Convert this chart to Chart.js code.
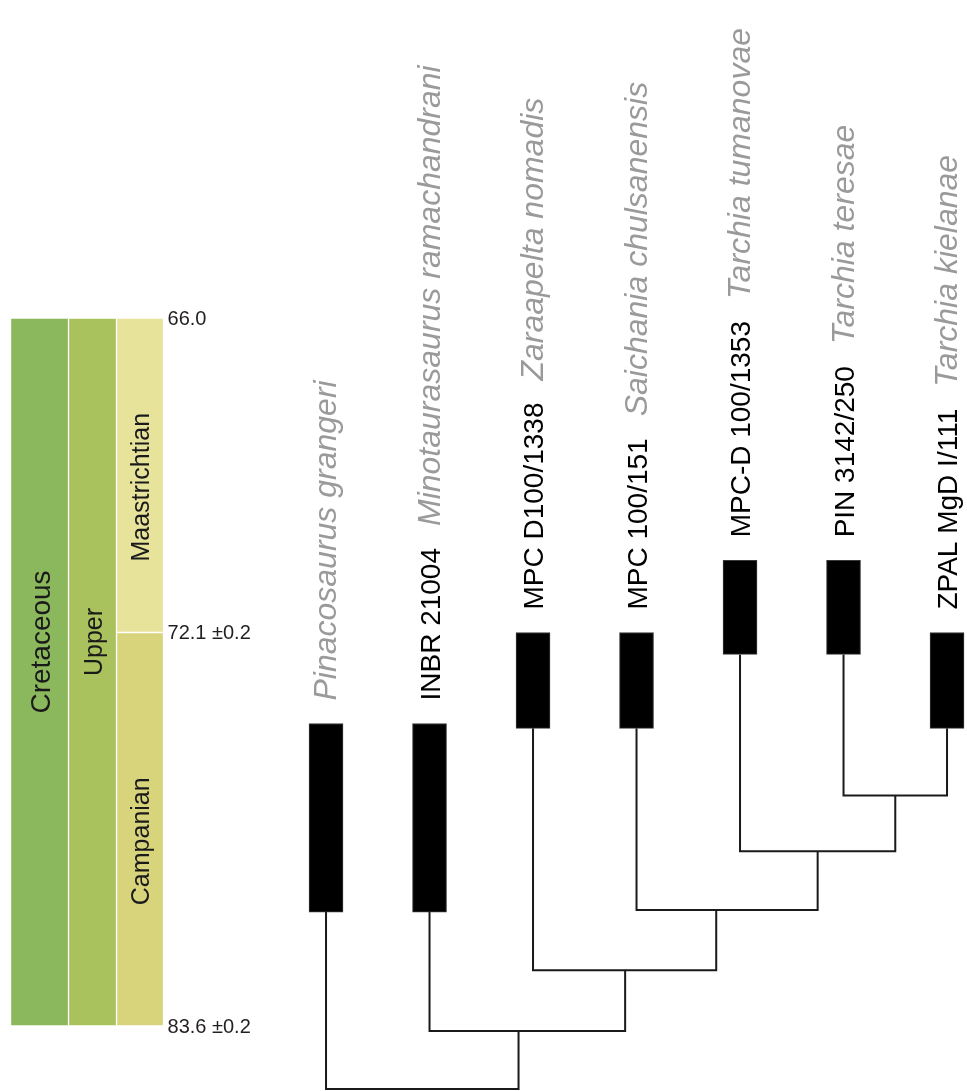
<!DOCTYPE html>
<html>
<head>
<meta charset="utf-8">
<script src="https://cdn.jsdelivr.net/npm/chart.js@4.4.1/dist/chart.umd.min.js"></script>
<style>
    html, body { margin: 0; padding: 0; background: #fff; }
    .chart-box { position: relative; width: 967px; height: 1091px; }
</style>
</head>
<body>
<div class="chart-box"><canvas id="stratChart"></canvas></div>
<script>
// Taxa, left to right
const specimens = ['', 'INBR 21004', 'MPC D100/1338', 'MPC 100/151', 'MPC-D 100/1353', 'PIN 3142/250', 'ZPAL MgD I/111'];
const species = ['Pinacosaurus grangeri', 'Minotaurasaurus ramachandrani', 'Zaraapelta nomadis', 'Saichania chulsanensis', 'Tarchia tumanovae', 'Tarchia teresae', 'Tarchia kielanae'];
const rangeTop = [74.76, 74.76, 72.1, 72.1, 70.7, 70.7, 72.1];   // Ma
const rangeBase = [80.27, 80.27, 74.9, 74.9, 72.74, 72.74, 74.9]; // Ma

// Clade nodes (ids 7.. follow the taxa)
const nodeLeft = [5, 4, 3, 2, 1, 0];
const nodeRight = [6, 7, 8, 9, 10, 11];
const nodeAge = [76.86, 78.49, 80.21, 81.97, 83.75, 85.44];
const nodePos = [5.5, 4.75, 3.77, 2.89, 1.86, 0.94];

// Chronostratigraphy
const unitNames = ['Cretaceous', 'Upper', 'Maastrichtian', 'Campanian'];
const unitRank = ['period', 'epoch', 'stage', 'stage'];
const unitTop = [66, 66, 66, 72.1];
const unitBase = [83.6, 83.6, 72.1, 83.6];
const tickValues = [66, 72.1, 83.6];
const tickLabels = ['66.0', '72.1 ±0.2', '83.6 ±0.2'];

// Layout / styles
const rankLayout = {
    period: { x: -2.768, width: 58, font: 28, shift: -30 },
    epoch: { x: -2.256, width: 48, font: 25, shift: -30 },
    stage: { x: -1.797, width: 47, font: 25, shift: 12 },
};
const unitColors = ['#8bb85c', '#a9c25d', '#e7e39b', '#d8d47b'];
const FONT = '"Liberation Sans", Arial, Helvetica, sans-serif';
const SPECIMEN_SIZE = 28;
const SPECIES_SIZE = 32;

// Time axis: the Maastrichtian is drawn stretched relative to the rest
const BREAK = 72.1;
const STRETCH = 1.507;

class StratScale extends Chart.LinearScale {
    warp(v) {
        return v <= BREAK ? (v - BREAK) * STRETCH : v - BREAK;
    }
    getPixelForValue(value) {
        if (value === null || isNaN(value)) return NaN;
        const a = this.warp(this.min);
        const z = this.warp(this.max);
        return this.getPixelForDecimal((this.warp(value) - a) / (z - a));
    }
    getValueForPixel(pixel) {
        const a = this.warp(this.min);
        const z = this.warp(this.max);
        const w = a + this.getDecimalForPixel(pixel) * (z - a);
        return w <= 0 ? BREAK + w / STRETCH : BREAK + w;
    }
}
StratScale.id = 'strat';
Chart.register(StratScale);

// position of taxon / node on x
function posOf(id) {
    return id < species.length ? id : nodePos[id - species.length];
}
function ageOf(id) {
    return id < species.length ? rangeBase[id] : nodeAge[id - species.length];
}

const datasets = [];

// stratigraphic column
unitNames.forEach((name, i) => {
    const lay = rankLayout[unitRank[i]];
    datasets.push({
        type: 'bar',
        data: [{ x: lay.x, y: [unitTop[i], unitBase[i]] }],
        backgroundColor: unitColors[i],
        borderColor: '#ffffff',
        borderWidth: 1,
        borderSkipped: false,
        barThickness: lay.width,
        grouped: false,
        order: 3,
    });
});

// stratigraphic ranges of the taxa
datasets.push({
    type: 'bar',
    data: species.map((s, i) => ({ x: i, y: [rangeTop[i], rangeBase[i]] })),
    backgroundColor: '#000000',
    borderColor: '#3a3a3a',
    borderWidth: 1,
    borderSkipped: false,
    barThickness: 34,
    grouped: false,
    order: 1,
});

// tree branches: one elbow per node
nodeLeft.forEach((l, k) => {
    const r = nodeRight[k];
    datasets.push({
        type: 'line',
        data: [
            { x: posOf(l), y: ageOf(l) },
            { x: posOf(l), y: nodeAge[k] },
            { x: posOf(r), y: nodeAge[k] },
            { x: posOf(r), y: ageOf(r) },
        ],
        borderColor: '#1a1a1a',
        borderWidth: 2,
        pointRadius: 0,
        tension: 0,
        fill: false,
        borderJoinStyle: 'miter',
        order: 2,
    });
});

function verticalText(ctx, text, x, y, size, align) {
    ctx.save();
    ctx.translate(x + size * 0.36, y);
    ctx.rotate(-Math.PI / 2);
    ctx.textAlign = align;
    ctx.textBaseline = 'alphabetic';
    ctx.fillText(text, 0, 0);
    ctx.restore();
}

const labelPlugin = {
    id: 'stratLabels',
    afterDatasetsDraw(chart) {
        const { ctx, scales: { x, y } } = chart;
        ctx.save();

        // column names
        ctx.fillStyle = '#1a1a1a';
        unitNames.forEach((name, i) => {
            const lay = rankLayout[unitRank[i]];
            const cy = (y.getPixelForValue(unitTop[i]) + y.getPixelForValue(unitBase[i])) / 2 + lay.shift;
            ctx.font = lay.font + 'px ' + FONT;
            verticalText(ctx, name, x.getPixelForValue(lay.x), cy, lay.font, 'center');
        });

        // boundary ages
        const stage = rankLayout.stage;
        const tx = x.getPixelForValue(stage.x) + stage.width / 2 + 4;
        ctx.font = '20px ' + FONT;
        ctx.fillStyle = '#231f20';
        ctx.textAlign = 'left';
        ctx.textBaseline = 'middle';
        tickValues.forEach((v, i) => {
            ctx.fillText(tickLabels[i], tx, y.getPixelForValue(v) + 1);
        });

        // taxon labels
        species.forEach((name, i) => {
            const cx = x.getPixelForValue(i);
            let bottom = y.getPixelForValue(rangeTop[i]) - 23;
            if (specimens[i]) {
                ctx.font = SPECIMEN_SIZE + 'px ' + FONT;
                ctx.fillStyle = '#000000';
                verticalText(ctx, specimens[i], cx, bottom, SPECIMEN_SIZE, 'left');
                bottom -= ctx.measureText(specimens[i]).width + 22;
            }
            ctx.font = 'italic ' + SPECIES_SIZE + 'px ' + FONT;
            ctx.fillStyle = '#9a9a9a';
            verticalText(ctx, name, cx, bottom, SPECIMEN_SIZE, 'left');
        });

        ctx.restore();
    }
};

new Chart(document.getElementById('stratChart'), {
    type: 'bar',
    data: { datasets: datasets },
    options: {
        responsive: true,
        maintainAspectRatio: false,
        animation: false,
        layout: {
            padding: { top: 318, bottom: 0, left: 0, right: 0 },
        },
        scales: {
            x: {
                type: 'linear',
                offset: false,
                min: -3.15,
                max: 6.193,
                display: false,
            },
            y: {
                type: 'strat',
                min: 66,
                max: 85.5,
                reverse: true,
                display: false,
            },
        },
        plugins: {
            legend: { display: false },
            tooltip: { enabled: false },
        },
    },
    plugins: [labelPlugin],
});
</script>
</body>
</html>
